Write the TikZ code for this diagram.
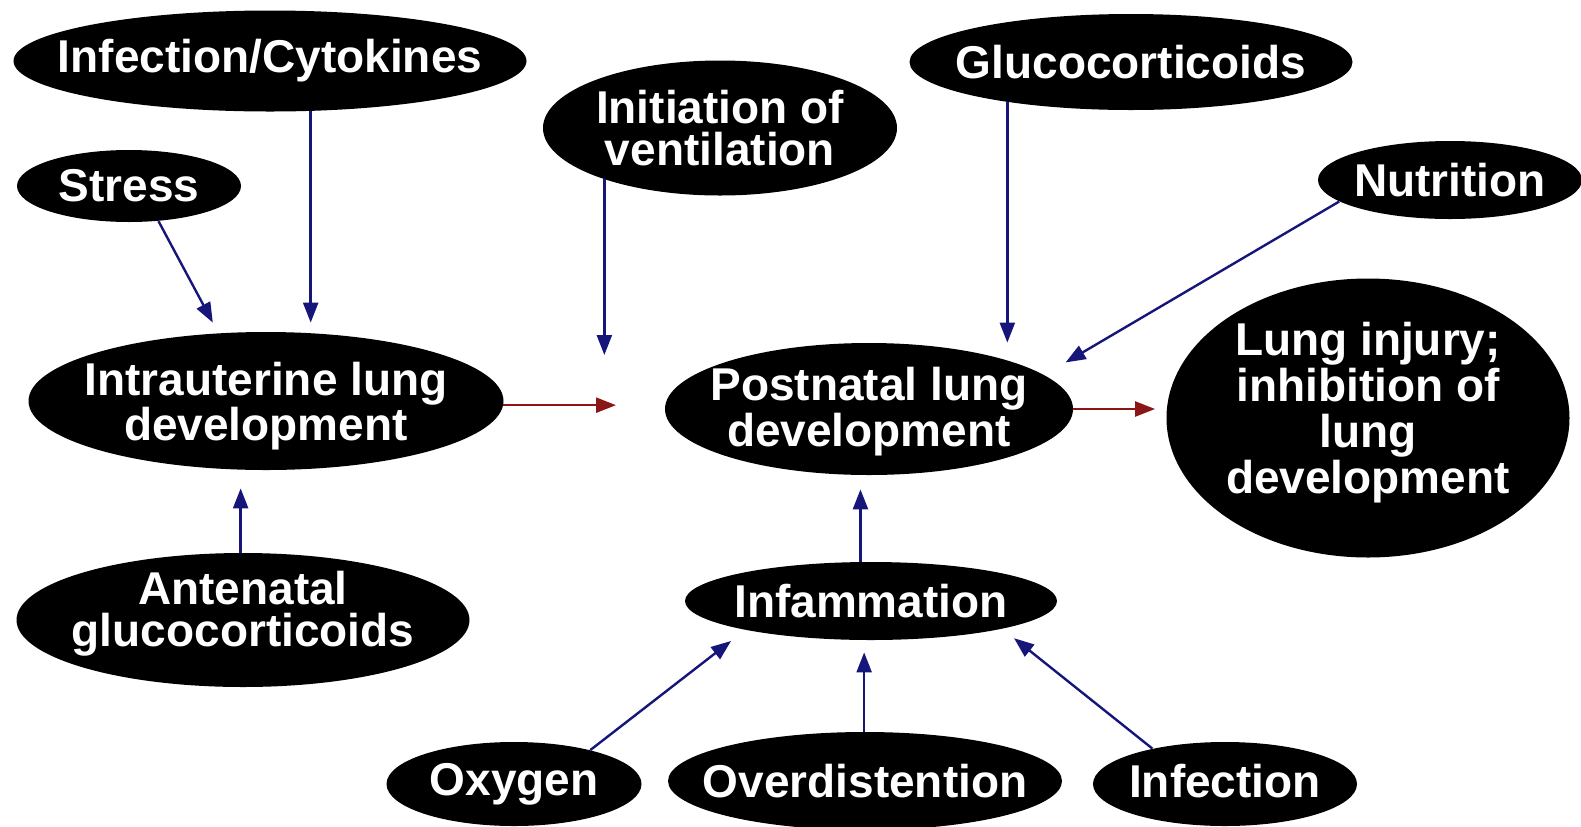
\documentclass[tikz,border=0pt]{standalone}
\usepackage{fontspec}
\setmainfont{Liberation Sans}
\usetikzlibrary{arrows.meta,shapes.geometric}
\definecolor{navyarrow}{RGB}{22,22,122}
\definecolor{redarrow}{RGB}{140,22,22}
\tikzset{
  blob/.style 2 args={ellipse, fill=black, draw=none, inner sep=0pt,
    minimum width=#1*0.5pt, minimum height=#2*0.5pt},
  lbl/.style={text=white, font=\bfseries\fontsize{23}{20}\selectfont, align=center, inner sep=0pt},
  lblmid/.style={lbl, font=\bfseries\fontsize{23}{21}\selectfont},
  lblwide/.style={lbl, font=\bfseries\fontsize{23}{23}\selectfont},
  conn/.style={draw=navyarrow, line width=1.2pt, -{Triangle[length=10pt,width=7.5pt]}},
  redconn/.style={draw=redarrow, line width=1.2pt, -{Triangle[length=10pt,width=7.5pt]}}
}
\begin{document}
\begin{tikzpicture}[x=0.5pt,y=-0.5pt]
\useasboundingbox (0,0) rectangle (1581,826);
% nodes
\node[blob={513}{101}] (ic) at (270,61) {};
\node[lbl] at (ic) {Infection/Cytokines};
\node[blob={224}{72}] (stress) at (129,186) {};
\node[lbl] at (stress) {Stress};
\node[blob={475}{138}] (iu) at (266,401) {};
\node[lbl] at (266,406) {Intrauterine lung\\development};
\node[blob={453}{134}] (ant) at (243,620) {};
\node[lblmid] at (243,614) {Antenatal\\glucocorticoids};
\node[blob={354}{135}] (init) at (720,128) {};
\node[lblmid] at (init) {Initiation of\\ventilation};
\node[blob={443}{96}] (gluc) at (1131,62) {};
\node[lbl] at (gluc) {Glucocorticoids};
\node[blob={264}{78}] (nut) at (1450,180) {};
\node[lbl] at (nut) {Nutrition};
\node[blob={408}{132}] (post) at (869,409) {};
\node[lblwide] at (869,412) {Postnatal lung\\development};
\node[blob={403}{279}] (inj) at (1368,418) {};
\node[lblwide] at (1368,413) {Lung injury;\\inhibition of\\lung\\development};
\node[blob={372}{78}] (infl) at (871,601) {};
\node[lbl] at (infl) {Infammation};
\node[blob={255}{84}] (oxy) at (514,784) {};
\node[lbl] at (oxy) {Oxygen};
\node[blob={394}{98}] (over) at (865,781) {};
\node[lbl] at (over) {Overdistention};
\node[blob={264}{84}] (infc) at (1225,784) {};
\node[lbl] at (1225,781) {Infection};
% free ends
\coordinate (f1) at (604,355);
\coordinate (f2) at (616,408);
% connectors
\draw[conn, shorten >=4.5pt] (ic.-51.3) -- (ic.-51.3 |- iu.north);
\draw[conn, shorten >=5.9pt] (stress.-50) -- (iu.125);
\draw[conn] (init.-156.3) -- (init.-156.3 |- f1);
\draw[redconn] (iu.-1.7) -- (iu.-1.7 -| f2);
\draw[conn] (gluc.-162.2) -- (gluc.-162.2 |- post.north);
\draw[conn, shorten >=12.3pt] (nut.-169.4) -- (post.11.3);
\draw[redconn, shorten >=5.5pt] (post.east) -- (post.east -| inj.west);
\draw[conn, shorten >=9pt] (ant.92.6) -- (ant.92.6 |- iu.south);
\draw[conn, shorten >=7pt] (infl.105.8) -- (infl.105.8 |- post.south);
\draw[conn, shorten >=8.9pt] (oxy.24.1) -- (infl.-167.9);
\draw[conn, shorten >=6pt] (over.91.2) -- (over.91.2 |- infl.south);
\draw[conn, shorten >=7.4pt] (infc.154.4) -- (infl.-12);
\end{tikzpicture}
\end{document}
